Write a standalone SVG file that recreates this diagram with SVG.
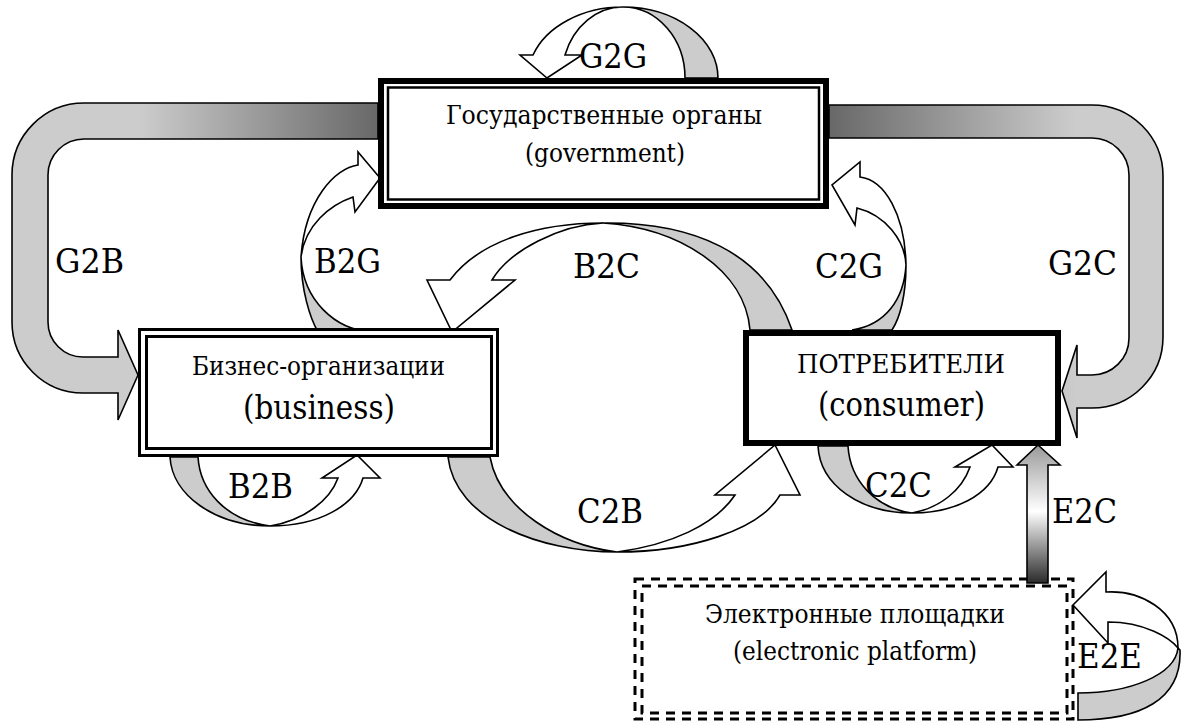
<svg xmlns="http://www.w3.org/2000/svg" width="1182" height="726" viewBox="0 0 1182 726">
<style>
.ln{stroke:#000;stroke-width:1.6;stroke-linejoin:miter}
.gray{fill:#cccccc}
.wh{fill:#fff}
text{font-family:"DejaVu Serif",serif;fill:#000}
.lbl{font-size:33px}
.nt{font-size:26.5px;text-anchor:middle}
.nb{font-size:33px;text-anchor:middle}
.dash{fill:none;stroke:#000;stroke-width:3;stroke-dasharray:9 7}
</style>
<defs>
<linearGradient id="gL" gradientUnits="userSpaceOnUse" x1="140" y1="0" x2="378" y2="0">
<stop offset="0" stop-color="#cccccc"/><stop offset="1" stop-color="#686868"/>
</linearGradient>
<linearGradient id="gR" gradientUnits="userSpaceOnUse" x1="829" y1="0" x2="1075" y2="0">
<stop offset="0" stop-color="#686868"/><stop offset="1" stop-color="#cccccc"/>
</linearGradient>
<linearGradient id="gE" gradientUnits="userSpaceOnUse" x1="0" y1="445" x2="0" y2="583">
<stop offset="0" stop-color="#9a9a9a"/><stop offset="0.48" stop-color="#ffffff"/><stop offset="1" stop-color="#2a2a2a"/>
</linearGradient>
</defs>
<rect width="1182" height="726" fill="#fff"/>

<g id="connectors">
<path class="ln" fill="url(#gL)" d="M378,103 L84,103 A72,72 0 0 0 12,175 L12,322 A71,71 0 0 0 83,393 L118,393 L118,420 L138,375 L118,330 L118,357 L83,357 A35,35 0 0 1 48,322 L48,175 A36,36 0 0 1 84,139 L378,139 Z"/>
<path class="ln" fill="url(#gR)" d="M829,105 L1092,105 A71,71 0 0 1 1163,176 L1163,337 A71,71 0 0 1 1092,408 L1077,408 L1077,438 L1062,391 L1077,345 L1077,375 L1092,375 A37,37 0 0 0 1129,338 L1129,175 A37,37 0 0 0 1092,138 L829,138 Z"/>
<path class="ln gray" d="M623,7 A95,71 0 0 1 718,78 L685,78 A62,71 0 0 0 623,7 Z"/>
<path class="ln wh" d="M533,55 A95,71 0 0 1 623,7 A61,71 0 0 0 565,55 L582,55 L547,78 L520,55 Z"/>
<path class="ln gray" d="M301,257 C301,290 310,318 318,332 L372,332 C335,330 303,300 301,257 Z"/>
<path class="ln wh" d="M358,165 C335,168 305,200 301,257 C305,225 330,205 353,197 L355,212 L380,178 L358,152 Z"/>
<path class="ln gray" d="M906,265 C906,295 900,318 892,330 L852,330 C885,325 904,300 906,265 Z"/>
<path class="ln wh" d="M860,177 C885,180 905,215 906,265 C905,240 885,215 857,208 L855,225 L832,185 L860,162 Z"/>
<path class="ln gray" d="M603,223 C690,222 765,250 792,330 L750,330 C745,270 680,228 603,223 Z"/>
<path class="ln wh" d="M450,280 C480,240 540,223 603,223 C560,225 510,250 492,280 L515,280 L452,332 L427,280 Z"/>
<path class="ln gray" d="M448,457 C455,520 540,552 617,552 C560,545 500,510 490,457 Z"/>
<path class="ln wh" d="M617,552 C690,552 760,530 780,495 L800,495 L775,445 L715,495 L735,495 C715,525 670,545 617,552 Z"/>
<path class="ln gray" d="M170,457 C172,495 215,526 270,526 C225,520 200,490 198,457 Z"/>
<path class="ln wh" d="M270,526 C320,526 355,505 363,478 L380,478 L357,455 L322,478 L338,478 C330,500 305,520 270,526 Z"/>
<path class="ln gray" d="M818,446 C820,485 860,513 912,513 C875,508 850,480 848,446 Z"/>
<path class="ln wh" d="M912,513 C955,513 990,495 998,467 L1013,467 L992,445 L955,467 L970,467 C962,490 940,508 912,513 Z"/>
</g>

<g id="government">
<rect x="381" y="81" width="445" height="125" fill="#fff" stroke="#000" stroke-width="6"/>
<rect x="388" y="87.5" width="431" height="112" fill="none" stroke="#000" stroke-width="2.5"/>
<text class="nt" x="604" y="124" textLength="316" lengthAdjust="spacingAndGlyphs">Государственные органы</text>
<text class="nt" x="605" y="162" textLength="160" lengthAdjust="spacingAndGlyphs">(government)</text>
</g>

<g id="business">
<rect x="139.5" y="329.5" width="358" height="126" fill="#fff" stroke="#000" stroke-width="3"/>
<rect x="146.5" y="336.5" width="345" height="112" fill="none" stroke="#000" stroke-width="3"/>
<text class="nt" x="318.5" y="375" textLength="253" lengthAdjust="spacingAndGlyphs">Бизнес-организации</text>
<text class="nb" x="319" y="419" textLength="152" lengthAdjust="spacingAndGlyphs">(business)</text>
</g>

<g id="consumer">
<rect x="746" y="333" width="312" height="110" fill="#fff" stroke="#000" stroke-width="6"/>
<text class="nt" x="901" y="373" textLength="208" lengthAdjust="spacingAndGlyphs">ПОТРЕБИТЕЛИ</text>
<text class="nb" x="901.5" y="416" textLength="167" lengthAdjust="spacingAndGlyphs">(consumer)</text>
</g>

<g id="electronic">
<rect x="635" y="579" width="438" height="140" fill="#fff" class="dash"/>
<rect x="642" y="586" width="425" height="127" class="dash"/>
<text class="nt" x="855" y="623" textLength="300" lengthAdjust="spacingAndGlyphs">Электронные площадки</text>
<text class="nt" x="855" y="660" textLength="244" lengthAdjust="spacingAndGlyphs">(electronic platform)</text>
</g>

<g id="connectors-e">
<path class="ln" fill="url(#gE)" d="M1027,583 L1027,465 L1017,465 L1038,445 L1060,465 L1048,465 L1048,583 Z"/>
<path class="ln gray" d="M1178,648 C1175,675 1130,693 1078,693 L1078,720 C1140,720 1182,700 1180,650 Z"/>
<path class="ln wh" d="M1106,592 C1140,590 1178,610 1178,648 C1170,638 1145,622 1108,622 L1108,643 L1073,605 L1106,572 Z"/>
</g>

<g id="labels">
<text class="lbl" x="579" y="68" textLength="68" lengthAdjust="spacingAndGlyphs">G2G</text>
<text class="lbl" x="55" y="273" textLength="69" lengthAdjust="spacingAndGlyphs">G2B</text>
<text class="lbl" x="314" y="273" textLength="67" lengthAdjust="spacingAndGlyphs">B2G</text>
<text class="lbl" x="573" y="278" textLength="67" lengthAdjust="spacingAndGlyphs">B2C</text>
<text class="lbl" x="815" y="278" textLength="68" lengthAdjust="spacingAndGlyphs">C2G</text>
<text class="lbl" x="1048" y="275" textLength="69" lengthAdjust="spacingAndGlyphs">G2C</text>
<text class="lbl" x="228" y="498" textLength="65" lengthAdjust="spacingAndGlyphs">B2B</text>
<text class="lbl" x="577" y="523" textLength="66" lengthAdjust="spacingAndGlyphs">C2B</text>
<text class="lbl" x="865" y="497" textLength="67" lengthAdjust="spacingAndGlyphs">C2C</text>
<text class="lbl" x="1052" y="523" textLength="65" lengthAdjust="spacingAndGlyphs">E2C</text>
<text class="lbl" x="1077" y="668" textLength="65" lengthAdjust="spacingAndGlyphs">E2E</text>
</g>
</svg>
